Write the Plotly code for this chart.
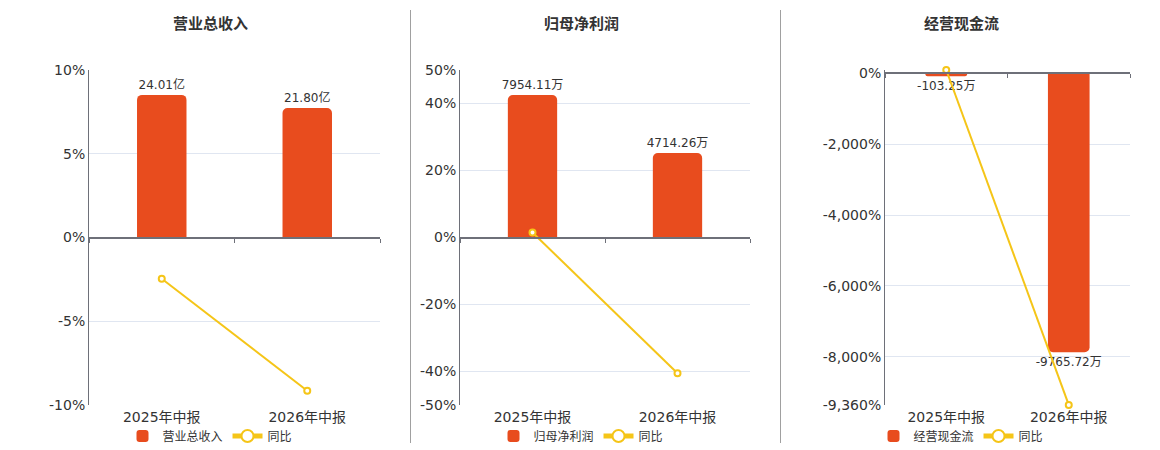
import plotly.graph_objects as go

# the page body keeps its default 8px margin, so the figure is drawn
# 8px smaller and every pixel position is shifted by that offset
OFF = 8
W, H = 1160 - OFF, 450 - OFF

categories = ["2025年中报", "2026年中报"]

# 营业总收入 (亿) and yoy %
revenue = [24.01, 21.80]
revenue_yoy = [-2.46, -9.15]

# 归母净利润 (万) and yoy %
net_profit = [7954.11, 4714.26]
net_profit_yoy = [1.5, -40.5]

# 经营现金流 (万) and yoy %
cash_flow = [-103.25, -9765.72]
cash_flow_yoy = [93.0, -9358.0]

BAR = "#E84C1E"
LINE = "#F5C518"
AXIS = "#6E7079"
GRID = "#E0E6F1"
TXT = "#333333"
FONT = "DejaVu Sans, Noto Sans CJK SC, sans-serif"
CJK = "Noto Sans CJK SC, sans-serif"


def px_x(p):
    return (p - OFF) / W


def px_y(p):
    return 1 - (p - OFF) / H


panels = [
    dict(title="营业总收入", bars=revenue, yoy=revenue_yoy, unit="亿",
         xdom=(89, 380), center=210,
         yrange=[-10, 10], tickvals=[-10, -5, 0, 5, 10],
         ticktext=["-10%", "-5%", "0%", "5%", "10%"],
         brange=[-28.2, 28.2]),
    dict(title="归母净利润", bars=net_profit, yoy=net_profit_yoy, unit="万",
         xdom=(460, 750), center=581,
         yrange=[-50, 50], tickvals=[-50, -40, -20, 0, 20, 40, 50],
         ticktext=["-50%", "-40%", "-20%", "0%", "20%", "40%", "50%"],
         brange=[-9345, 9345]),
    dict(title="经营现金流", bars=cash_flow, yoy=cash_flow_yoy, unit="万",
         xdom=(885, 1130), center=961,
         yrange=[-9360, 93], tickvals=[-9360, -8000, -6000, -4000, -2000, 0],
         ticktext=["-9,360%", "-8,000%", "-6,000%", "-4,000%", "-2,000%", "0%"],
         brange=[-11610, 115]),
]

ydom = (px_y(405), px_y(70))

fig = go.Figure()
layout = {}
annotations = []

for i, p in enumerate(panels):
    xa = f"x{2 * i + 1}"     # category label axis
    xo = f"x{2 * i + 2}"     # overlay axis drawn at zero
    yb = f"y{2 * i + 1}"     # bar value axis (hidden)
    yl = f"y{2 * i + 2}"     # percent axis
    leg = "legend" if i == 0 else f"legend{i + 1}"
    xdom = (px_x(p["xdom"][0]), px_x(p["xdom"][1]))

    lo, hi = p["yrange"]
    zero_pos = ydom[0] + (0 - lo) / (hi - lo) * (ydom[1] - ydom[0])

    layout["xaxis" + xa[1:]] = dict(
        domain=xdom, anchor=yb, type="category", range=[-0.5, 1.5],
        showline=False, ticks="", showgrid=False,
        tickfont=dict(family=FONT, size=14, color=TXT), ticklabelstandoff=2,
    )
    layout["xaxis" + xo[1:]] = dict(
        overlaying=xa, anchor="free", position=zero_pos, type="category",
        range=[-0.5, 1.5], showline=True, linecolor=AXIS, linewidth=2,
        ticks="outside", tickson="boundaries", ticklen=4, tickcolor=AXIS,
        showticklabels=False, showgrid=False,
    )
    layout["yaxis" + yb[1:]] = dict(
        domain=ydom, anchor=xa, range=p["brange"], visible=False,
        showgrid=False, zeroline=False,
    )
    layout["yaxis" + yl[1:]] = dict(
        overlaying=yb, anchor=xa, side="left", range=p["yrange"],
        tickvals=p["tickvals"], ticktext=p["ticktext"],
        showgrid=True, gridcolor=GRID, gridwidth=1, zeroline=False,
        showline=True, linecolor=AXIS, linewidth=1, ticks="",
        tickfont=dict(family=FONT, size=14, color=TXT),
    )
    layout[leg] = dict(
        orientation="h", xref="container", yref="container",
        x=px_x(p["center"]), xanchor="center",
        y=px_y(436), yanchor="middle", itemsizing="constant",
        font=dict(family=CJK, size=12, color=TXT), bgcolor="rgba(0,0,0,0)",
        itemwidth=30, tracegroupgap=0,
    )

    fig.add_trace(go.Bar(
        x=categories, y=p["bars"], name=p["title"], xaxis=xa, yaxis=yb,
        marker=dict(color=BAR, line=dict(width=0)), width=0.34,
        texttemplate="%{y:.2f}" + p["unit"], textposition="outside",
        constraintext="none",
        textfont=dict(family=FONT, size=12, color=TXT), cliponaxis=False,
        legend=leg,
    ))
    fig.add_trace(go.Scatter(
        x=categories, y=p["yoy"], name="同比", xaxis=xo, yaxis=yl,
        mode="lines+markers", line=dict(color=LINE, width=2),
        marker=dict(size=6, color="white", line=dict(color=LINE, width=2)),
        cliponaxis=False, legend=leg,
    ))

    annotations.append(dict(
        text="<b>" + p["title"] + "</b>", x=px_x(p["center"]), y=px_y(23),
        xref="paper", yref="paper", showarrow=False, xanchor="center",
        yanchor="middle", font=dict(family=CJK, size=15, color=TXT),
    ))

shapes = [
    dict(type="line", xref="paper", yref="paper", x0=px_x(410.5), x1=px_x(410.5),
         y0=px_y(10), y1=px_y(443), line=dict(color="#A0A0A0", width=1)),
    dict(type="line", xref="paper", yref="paper", x0=px_x(780.5), x1=px_x(780.5),
         y0=px_y(10), y1=px_y(443), line=dict(color="#A0A0A0", width=1)),
]

fig.update_layout(
    width=W, height=H, margin=dict(l=0, r=0, t=0, b=0, autoexpand=False),
    paper_bgcolor="white", plot_bgcolor="white",
    barcornerradius=5, showlegend=True,
    annotations=annotations, shapes=shapes, **layout,
)

fig.write_html("out.html")
